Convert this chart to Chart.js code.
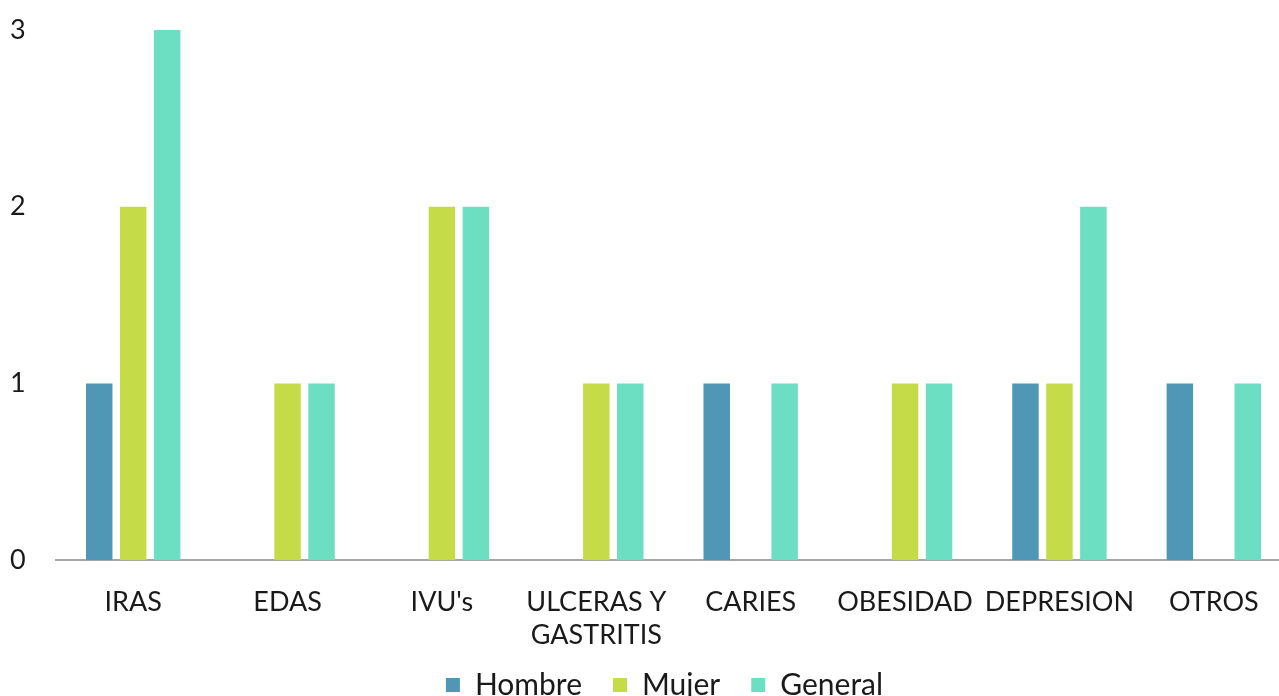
<!DOCTYPE html>
<html>
<head>
<meta charset="utf-8">
<script src="https://cdn.jsdelivr.net/npm/chart.js@4/dist/chart.umd.min.js"></script>
<style>
  html, body { margin: 0; padding: 0; background: #ffffff; overflow: hidden; }
  #wrap { width: 1291px; height: 696px; position: relative; }
</style>
</head>
<body>
<div id="wrap"><canvas id="chart"></canvas></div>
<script>
// Categories (diagnoses) and counts per group
const categories = ['IRAS', 'EDAS', "IVU's", ['ULCERAS Y', 'GASTRITIS'], 'CARIES', 'OBESIDAD', 'DEPRESION', 'OTROS'];
const hombre  = [1, 0, 0, 0, 1, 0, 1, 1];
const mujer   = [2, 1, 2, 1, 0, 1, 1, 0];
const general = [3, 1, 2, 1, 1, 1, 2, 1];
const yTicks  = [0, 1, 2, 3];

const FONT = 'Lato, "Open Sans", sans-serif';
const TEXT = '#1a1a1a';

// the legend gets a thin strip at the bottom; its row is placed near the lower edge
// and nudged a little to the right of the canvas centre
const legendPlace = {
  id: 'legendPlace',
  afterLayout(chart) {
    const lg = chart.legend;
    if (!lg) return;
    lg.top = 639;
    lg.bottom = chart.height;
    lg.left += 14;
    lg.right += 14;
  }
};

new Chart(document.getElementById('chart'), {
  type: 'bar',
  data: {
    labels: categories,
    datasets: [
      { label: 'Hombre',  data: hombre,  backgroundColor: '#5097b5' },
      { label: 'Mujer',   data: mujer,   backgroundColor: '#c5dc48' },
      { label: 'General', data: general, backgroundColor: '#6cdec2' }
    ]
  },
  plugins: [legendPlace],
  options: {
    responsive: true,
    maintainAspectRatio: false,
    animation: false,
    layout: { padding: { left: 10, right: 0, top: 30, bottom: 0 } },
    datasets: { bar: { categoryPercentage: 0.66, barPercentage: 0.78 } },
    plugins: {
      legend: {
        position: 'bottom',
        maxHeight: 19,
        labels: {
          color: TEXT,
          font: { family: FONT, size: 30 },
          boxWidth: 14,
          boxHeight: 14,
          padding: 31
        }
      },
      tooltip: { enabled: false }
    },
    scales: {
      x: {
        grid: { display: false, drawTicks: false },
        border: { display: true, color: '#a6a6a6', width: 2 },
        ticks: {
          color: TEXT,
          font: { family: FONT, size: 27 },
          padding: 26,
          maxRotation: 0,
          autoSkip: false
        }
      },
      y: {
        min: 0,
        max: 3,
        grid: { display: false, drawTicks: false },
        border: { display: false },
        afterBuildTicks: (axis) => { axis.ticks = yTicks.map(v => ({ value: v })); },
        afterFit: (axis) => { axis.width = 46; },
        ticks: {
          color: TEXT,
          font: { family: FONT, size: 27 },
          padding: 0,
          crossAlign: 'far'
        }
      }
    }
  }
});
</script>
</body>
</html>
